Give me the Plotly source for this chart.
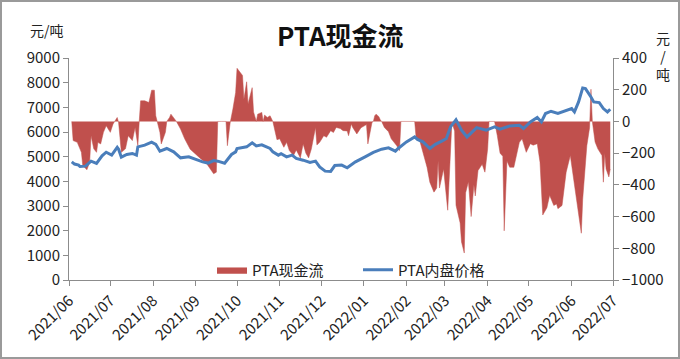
import plotly.graph_objects as go

# PTA现金流 (right axis, 元/吨)
cash_dates = [
    "2021-06-03", "2021-06-04", "2021-06-07", "2021-06-10", "2021-06-11", "2021-06-14", "2021-06-16",
    "2021-06-17", "2021-06-19", "2021-06-21", "2021-06-22", "2021-06-24", "2021-06-26", "2021-06-28",
    "2021-07-01", "2021-07-03", "2021-07-06", "2021-07-07", "2021-07-09", "2021-07-12", "2021-07-14",
    "2021-07-17", "2021-07-19", "2021-07-21", "2021-07-22", "2021-07-23", "2021-07-26", "2021-07-29",
    "2021-07-31", "2021-08-02", "2021-08-03", "2021-08-04", "2021-08-06", "2021-08-07", "2021-08-10",
    "2021-08-11", "2021-08-13", "2021-08-14", "2021-08-16", "2021-08-18", "2021-08-21", "2021-08-24",
    "2021-08-28", "2021-08-31", "2021-09-04", "2021-09-09", "2021-09-14", "2021-09-16", "2021-09-17",
    "2021-09-20", "2021-09-23", "2021-09-24", "2021-09-26", "2021-09-28", "2021-09-30", "2021-10-01",
    "2021-10-03", "2021-10-05", "2021-10-06", "2021-10-08", "2021-10-09", "2021-10-12", "2021-10-13",
    "2021-10-15", "2021-10-16", "2021-10-19", "2021-10-20", "2021-10-21", "2021-10-23", "2021-10-25",
    "2021-10-27", "2021-10-30", "2021-11-01", "2021-11-04", "2021-11-06", "2021-11-08", "2021-11-11",
    "2021-11-13", "2021-11-16", "2021-11-18", "2021-11-20", "2021-11-22", "2021-11-24", "2021-11-27",
    "2021-11-28", "2021-11-30", "2021-12-03", "2021-12-05", "2021-12-08", "2021-12-10", "2021-12-12",
    "2021-12-15", "2021-12-17", "2021-12-20", "2021-12-21", "2021-12-23", "2021-12-24", "2021-12-27",
    "2021-12-30", "2022-01-03", "2022-01-04", "2022-01-07", "2022-01-08", "2022-01-09", "2022-01-10",
    "2022-01-12", "2022-01-13", "2022-01-14", "2022-01-16", "2022-01-19", "2022-01-21", "2022-01-25",
    "2022-01-27", "2022-01-28", "2022-02-07", "2022-02-08", "2022-02-11", "2022-02-13", "2022-02-16",
    "2022-02-18", "2022-02-21", "2022-02-23", "2022-02-24", "2022-02-25", "2022-02-28", "2022-03-03",
    "2022-03-05", "2022-03-06", "2022-03-08", "2022-03-09", "2022-03-12", "2022-03-13", "2022-03-15",
    "2022-03-16", "2022-03-18", "2022-03-20", "2022-03-22", "2022-03-23", "2022-03-25", "2022-03-28",
    "2022-03-30", "2022-04-01", "2022-04-02", "2022-04-06", "2022-04-08", "2022-04-10", "2022-04-12",
    "2022-04-13", "2022-04-15", "2022-04-17", "2022-04-20", "2022-04-22", "2022-04-24", "2022-04-26",
    "2022-04-29", "2022-05-02", "2022-05-04", "2022-05-07", "2022-05-09", "2022-05-11", "2022-05-14",
    "2022-05-16", "2022-05-19", "2022-05-21", "2022-05-22", "2022-05-25", "2022-05-28", "2022-05-31",
    "2022-06-03", "2022-06-06", "2022-06-08", "2022-06-09", "2022-06-12", "2022-06-14", "2022-06-15",
    "2022-06-16", "2022-06-17", "2022-06-18", "2022-06-20", "2022-06-23", "2022-06-24", "2022-06-25",
    "2022-06-26", "2022-06-28", "2022-06-29",
]
cash_values = [
    0, -121, -132, -195, -278, -305, -257,
    -90, -173, -195, -132, -142, -69, -27,
    -69, -16, 25, -6, -195, -173, -90,
    -121, -38, -153, 0, 130, 130, 119,
    197, 197, 36, 0, -69, -142, -69,
    0, 25, 46, 25, 0, -48, -110,
    -175, -200, -230, -267, -330, -320, 0,
    0, 0, -153, -10, 78, 182, 335,
    315, 290, 140, 250, 110, 213, 60,
    0, 46, 57, 0, 40, 25, 36,
    0, -115, -110, -163, -132, -184, -215,
    -180, -230, -142, -200, -230, -173, -38,
    -148, -132, -90, -100, -58, -70, -38,
    -45, -58, -60, -90, -16, -38, -79,
    -40, -20, -142, -6, 0, 36, 46,
    30, 10, 0, -38, -65, -110, -153,
    -184, 0, 0, -100, -132, -195, -290,
    -383, -446, -420, -250, -420, -300, -560,
    -220, -5, -60, -529, -640, -760, -830,
    -450, -380, -600, -400, -470, -310, -270,
    -320, -173, 0, 0, -90, -200, -220,
    -690, -250, -289, -289, -215, -132, -110,
    -195, -140, -150, -140, -257, -590, -545,
    -466, -530, -520, -550, -530, -320, -215,
    -404, -590, -705, -490, -153, -40, 203,
    0, -60, -130, -173, -215, -383, -200,
    -300, -350, -300,
]

# PTA内盘价格 (left axis, 元/吨)
price_dates = [
    "2021-06-03", "2021-06-05", "2021-06-08", "2021-06-09", "2021-06-13", "2021-06-15", "2021-06-17",
    "2021-06-21", "2021-06-25", "2021-06-28", "2021-07-02", "2021-07-06", "2021-07-07", "2021-07-09",
    "2021-07-13", "2021-07-17", "2021-07-20", "2021-07-21", "2021-07-26", "2021-07-31", "2021-08-03",
    "2021-08-06", "2021-08-11", "2021-08-16", "2021-08-21", "2021-08-27", "2021-09-02", "2021-09-06",
    "2021-09-10", "2021-09-14", "2021-09-17", "2021-09-22", "2021-09-27", "2021-09-30", "2021-10-01",
    "2021-10-04", "2021-10-08", "2021-10-12", "2021-10-15", "2021-10-19", "2021-10-21", "2021-10-25",
    "2021-10-27", "2021-10-31", "2021-11-02", "2021-11-06", "2021-11-10", "2021-11-13", "2021-11-18",
    "2021-11-23", "2021-11-27", "2021-11-30", "2021-12-04", "2021-12-08", "2021-12-11", "2021-12-16",
    "2021-12-20", "2021-12-26", "2022-01-02", "2022-01-08", "2022-01-14", "2022-01-19", "2022-01-24",
    "2022-01-26", "2022-02-01", "2022-02-07", "2022-02-09", "2022-02-13", "2022-02-18", "2022-02-22",
    "2022-02-27", "2022-03-02", "2022-03-05", "2022-03-09", "2022-03-13", "2022-03-17", "2022-03-24",
    "2022-03-31", "2022-04-06", "2022-04-10", "2022-04-17", "2022-04-24", "2022-04-27", "2022-05-02",
    "2022-05-07", "2022-05-10", "2022-05-13", "2022-05-17", "2022-05-22", "2022-05-27", "2022-06-01",
    "2022-06-03", "2022-06-06", "2022-06-09", "2022-06-11", "2022-06-15", "2022-06-17", "2022-06-21",
    "2022-06-24", "2022-06-27", "2022-06-29",
]
price_values = [
    4790, 4700, 4656, 4600, 4615, 4700, 4818,
    4724, 5033, 5180, 5061, 5380, 5300, 4980,
    5089, 5130, 5061, 5398, 5466, 5590, 5500,
    5223, 5332, 5194, 4953, 4993, 4858, 4790,
    4740, 4840, 4818, 4735, 5089, 5194, 5332,
    5360, 5398, 5559, 5437, 5480, 5437, 5332,
    5194, 5061, 5120, 4993, 5061, 4927, 4858,
    4765, 4818, 4587, 4413, 4400, 4640, 4660,
    4550, 4790, 4993, 5170, 5304, 5356, 5223,
    5332, 5600, 5802, 5700, 5600, 5332, 5500,
    5640, 5737, 6206, 6500, 6073, 5800, 6180,
    6073, 6206, 6113, 6247, 6275, 6141, 6409,
    6587, 6409, 6749, 6842, 6749, 6842, 6951,
    6814, 7219, 7786, 7761, 7421, 7219, 7194,
    6951, 6814, 6923,
]

RED = "#C0504D"
BLUE = "#4A7EBB"
AXIS = "#8C8C8C"
FONT = "Noto Sans CJK SC"

fig = go.Figure()
fig.add_trace(go.Scatter(
    x=cash_dates, y=cash_values, name="PTA现金流", mode="lines",
    line=dict(color=RED, width=0.5), fill="tozeroy", fillcolor=RED,
    yaxis="y",
))
fig.add_trace(go.Scatter(
    x=price_dates, y=price_values, name="PTA内盘价格", mode="lines",
    line=dict(color=BLUE, width=3), yaxis="y2",
))

L, R, T, B = 69, 67, 58, 79
PW, PH = 680 - L - R, 359 - T - B

common_axis = dict(
    showline=True, linecolor=AXIS, linewidth=1, ticks="outside",
    ticklen=5, tickcolor=AXIS, showgrid=False, zeroline=False, automargin=False,
    tickfont=dict(size=15, family=FONT, color="#222222"),
)

fig.update_layout(
    width=680, height=359,
    margin=dict(l=L, r=R, t=T, b=B, autoexpand=False),
    paper_bgcolor="white", plot_bgcolor="white",
    font=dict(family=FONT, size=15, color="#222222"),
    showlegend=True,
    legend=dict(
        orientation="h", x=(212 - L) / PW, y=(280 - 270) / PH,
        xanchor="left", yanchor="middle", bgcolor="rgba(0,0,0,0)",
        font=dict(size=15, family=FONT, color="#222222"),
        entrywidth=101, entrywidthmode="pixels", itemwidth=30,
    ),
    xaxis=dict(
        type="date", range=["2021-06-01", "2022-07-01"],
        tick0="2021-06-01", dtick="M1", tickformat="%Y/%m", tickangle=-45,
        **common_axis,
    ),
    yaxis=dict(side="right", range=[-1000, 400], dtick=200, tick0=0, **common_axis),
    yaxis2=dict(side="left", overlaying="y", range=[0, 9000], dtick=1000, tick0=0, **common_axis),
    annotations=[
        dict(text="<b>PTA现金流</b>", xref="paper", yref="paper",
             x=(340 - L) / PW, y=1 + (T - 35) / PH, xanchor="center", yanchor="middle",
             showarrow=False, font=dict(size=26, family=FONT, color="#111111")),
        dict(text="元/吨", xref="paper", yref="paper",
             x=(47 - L) / PW, y=1 + (T - 30) / PH, xanchor="center", yanchor="middle",
             showarrow=False, font=dict(size=14, family=FONT, color="#222222")),
        dict(text="元<br>/<br>吨", xref="paper", yref="paper",
             x=(663 - L) / PW, y=1 + (T - 56) / PH, xanchor="center", yanchor="middle",
             showarrow=False, font=dict(size=14, family=FONT, color="#222222")),
    ],
    shapes=[
        dict(type="rect", xref="paper", yref="paper",
             x0=-(L - 1) / PW, x1=1 + (R - 1) / PW, y0=-(B - 1) / PH, y1=1 + (T - 1) / PH,
             line=dict(color="#9A9A9A", width=2), fillcolor="rgba(0,0,0,0)", layer="above"),
    ],
)

fig.write_html(
    "out.html",
    config={"displayModeBar": False},
    post_script="document.body.style.margin='0';document.body.style.overflow='hidden';",
)
